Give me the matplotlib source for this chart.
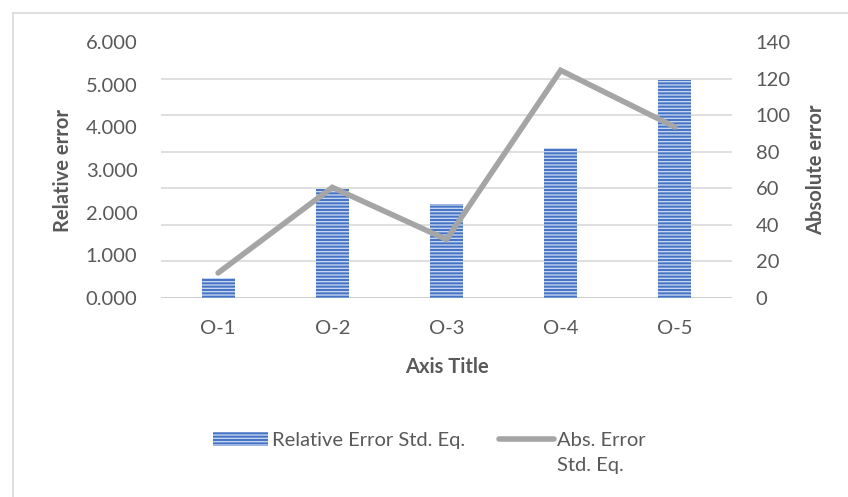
import matplotlib
matplotlib.use("Agg")
import matplotlib.pyplot as plt
import numpy as np
from matplotlib.lines import Line2D

categories = ["O-1", "O-2", "O-3", "O-4", "O-5"]
relative_error = [0.48, 2.56, 2.21, 3.52, 5.11]
absolute_error = [13.7, 60.5, 32, 124.5, 93.5]
left_ticks = [0, 1, 2, 3, 4, 5, 6]
right_ticks = [0, 20, 40, 60, 80, 100, 120, 140]

plt.rcParams['font.family'] = ['Lato', 'DejaVu Sans']
txt = '#595959'
fs = 14.5

fig = plt.figure(figsize=(8.48, 4.97), dpi=100)
ax = fig.add_axes([161/848, 1-298/497, (732-161)/848, (298-42)/497])
ax2 = ax.twinx()

x = np.arange(len(categories))
ax.bar(x, relative_error, width=0.29, color='#4472C4', edgecolor='#C5D4EF',
       hatch='-----', linewidth=0, zorder=3)
ax2.plot(x, absolute_error, color='#A5A5A5', lw=4.0, solid_capstyle='round',
         solid_joinstyle='miter', zorder=4)

ax.set_xlim(-0.5, len(categories) - 0.5)
ax.set_ylim(0, 6)
ax2.set_ylim(0, 140)
ax.set_yticks(left_ticks)
ax.set_yticklabels([f"{v:.3f}" for v in left_ticks])
ax2.set_yticks(right_ticks)
ax2.set_yticklabels([str(v) for v in right_ticks])
ax.set_xticks(x)
ax.set_xticklabels(categories)

# gridlines aligned with right-axis ticks, drawn behind bars
ax.set_yticks([6 * v / 140 for v in right_ticks], minor=True)
ax.grid(True, which='minor', axis='y', color='#D9D9D9', lw=1.2, zorder=0)
ax.tick_params(which='minor', length=0)

for a in (ax, ax2):
    for s in ['top', 'left', 'right', 'bottom']:
        a.spines[s].set_visible(False)
ax.axhline(0, color='#BFBFBF', lw=1.8, zorder=2)

ax.tick_params(axis='y', which='major', length=0, labelsize=fs, labelcolor=txt, pad=17)
ax2.tick_params(axis='y', length=0, labelsize=fs, labelcolor=txt, pad=17)
ax.tick_params(axis='x', length=0, labelsize=fs, labelcolor=txt, pad=16)

ax.set_ylabel("Relative error", fontsize=fs, fontweight='bold', color=txt, labelpad=9)
ax2.set_ylabel("Absolute error", fontsize=fs, fontweight='bold', color=txt, labelpad=11)
ax.set_xlabel("Axis Title", fontsize=fs, fontweight='bold', color=txt, labelpad=14)

handles = [plt.Rectangle((0, 0), 1, 1, facecolor='#4472C4', edgecolor='#C5D4EF',
                         hatch='-----', linewidth=0),
           Line2D([0], [0], color='#A5A5A5', lw=4.0, solid_capstyle='round')]
labels = ["Relative Error Std. Eq.", "Abs. Error\nStd. Eq."]
leg = fig.legend(handles, labels, loc='upper left', bbox_to_anchor=(199/848, 1-418/497),
                 ncol=2, frameon=False, fontsize=fs, handlelength=2.75, handleheight=0.7,
                 handletextpad=0.15, columnspacing=1.7, labelcolor=txt, borderpad=0.2)
for t in leg.get_texts():
    t.set_linespacing(1.55)
leg._legend_handle_box.align = "top"
for col in leg._legend_handle_box.get_children():
    for hp in col.get_children():
        hp.align = "top"

# chart border
fig.add_artist(Line2D([13/848, 13/848], [0, 1-13/497], color='#D9D9D9', lw=1.2))
fig.add_artist(Line2D([13/848, 1], [1-13/497, 1-13/497], color='#D9D9D9', lw=1.2))

fig.savefig("out.png", dpi=100)
